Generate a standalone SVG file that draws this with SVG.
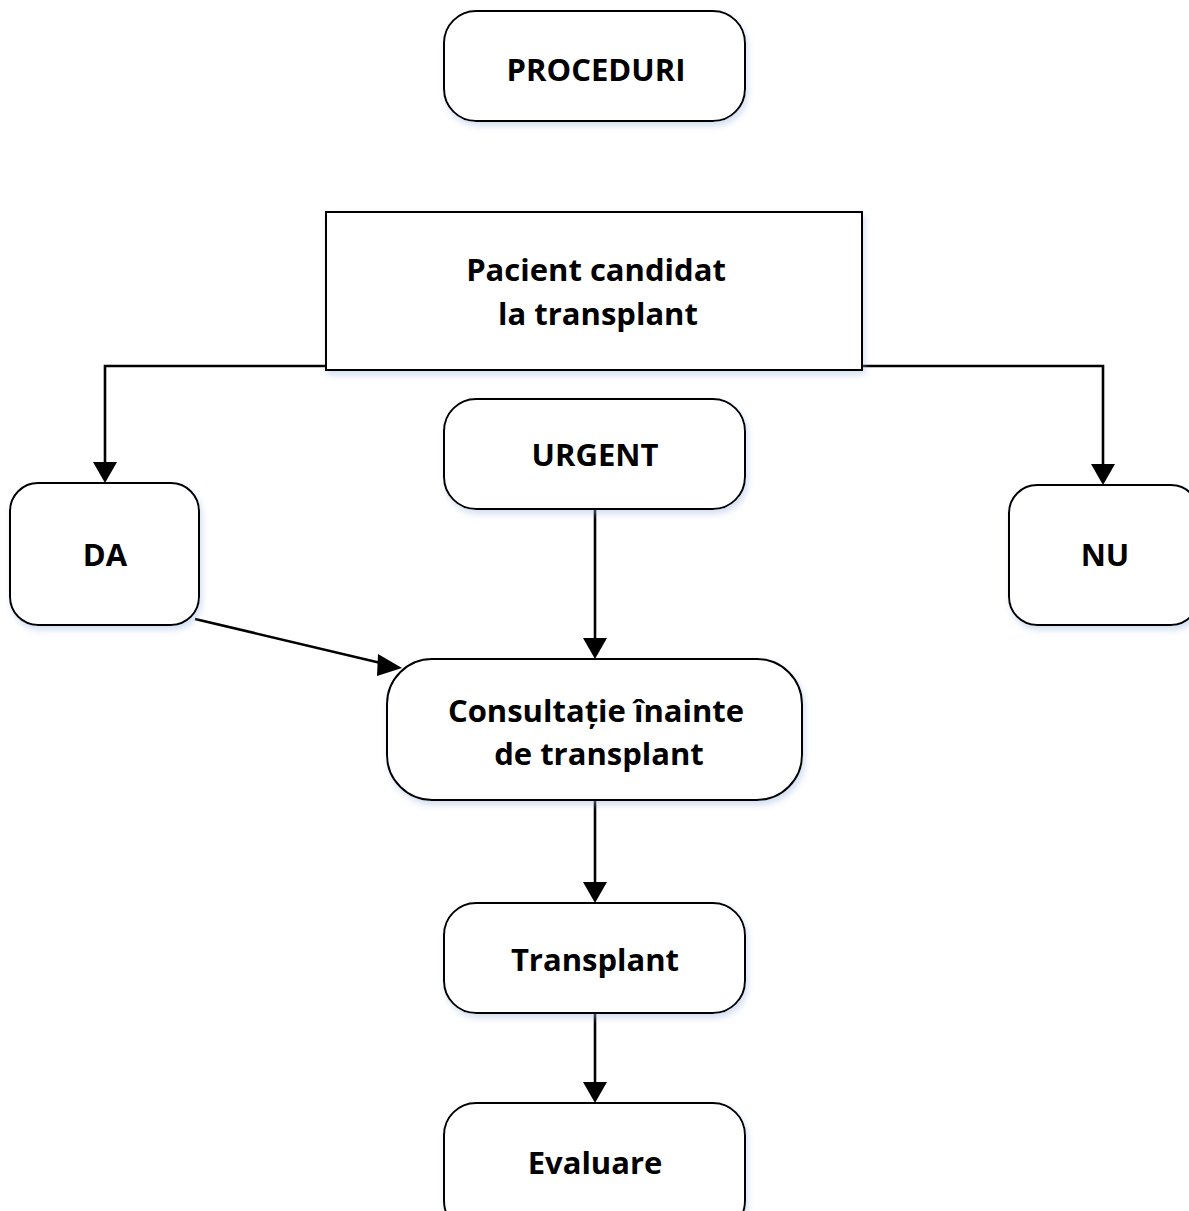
<svg xmlns="http://www.w3.org/2000/svg" width="1189" height="1211" viewBox="0 0 1189 1211">
<defs>
<filter id="sh" x="-10%" y="-10%" width="125%" height="130%">
<feGaussianBlur in="SourceAlpha" stdDeviation="3"/>
<feOffset dx="2" dy="4" result="b"/>
<feFlood flood-color="#9fb8e0" flood-opacity="0.45"/>
<feComposite in2="b" operator="in"/>
<feMerge><feMergeNode/><feMergeNode in="SourceGraphic"/></feMerge>
</filter>
</defs>
<style>
.n{fill:#fff;stroke:#000;stroke-width:2;filter:url(#sh)}
.t{font-family:"Open Sans","Liberation Sans",sans-serif;font-weight:bold;font-size:31px;fill:#000;text-anchor:middle}
.c{fill:none;stroke:#000;stroke-width:2.6}
.h{fill:#000}
</style>
<rect width="1189" height="1211" fill="#fff"/>
<g id="connectors">
<path class="c" d="M326,366 H105 V470"/>
<path class="h" d="M93,462 L117,462 L105,483 z"/>
<path class="c" d="M862,366 H1103 V470"/>
<path class="h" d="M1091,464 L1115,464 L1103,485 z"/>
<path class="c" d="M595,509 V645"/>
<path class="h" d="M583,638 L607,638 L595,659 z"/>
<path class="c" d="M195,619 L385,664"/>
<path class="h" d="M378,654 L402,668 L377,676 z"/>
<path class="c" d="M595,800 V890"/>
<path class="h" d="M583,882 L607,882 L595,903 z"/>
<path class="c" d="M595,1013 V1090"/>
<path class="h" d="M583,1082 L607,1082 L595,1103 z"/>
</g>
<g id="proceduri"><rect class="n" x="444" y="11" width="301" height="110" rx="32"/><text class="t" x="596" y="81">PROCEDURI</text></g>
<g id="pacient"><rect class="n" x="326" y="212" width="536" height="158"/><text class="t" x="596" y="281">Pacient candidat</text><text class="t" x="598" y="325">la transplant</text></g>
<g id="urgent"><rect class="n" x="444" y="399" width="301" height="110" rx="32"/><text class="t" x="595" y="466">URGENT</text></g>
<g id="da"><rect class="n" x="10" y="483" width="189" height="142" rx="28"/><text class="t" x="105" y="566">DA</text></g>
<g id="nu"><rect class="n" x="1009" y="485" width="190" height="140" rx="28"/><text class="t" x="1105" y="566">NU</text></g>
<g id="consultatie"><rect class="n" x="387" y="659" width="415" height="141" rx="45"/><text class="t" x="596" y="722">Consultație înainte</text><text class="t" x="599" y="765">de transplant</text></g>
<g id="transplant"><rect class="n" x="444" y="903" width="301" height="110" rx="32"/><text class="t" x="595" y="971">Transplant</text></g>
<g id="evaluare"><rect class="n" x="444" y="1103" width="301" height="130" rx="32"/><text class="t" x="595" y="1174">Evaluare</text></g>
</svg>
